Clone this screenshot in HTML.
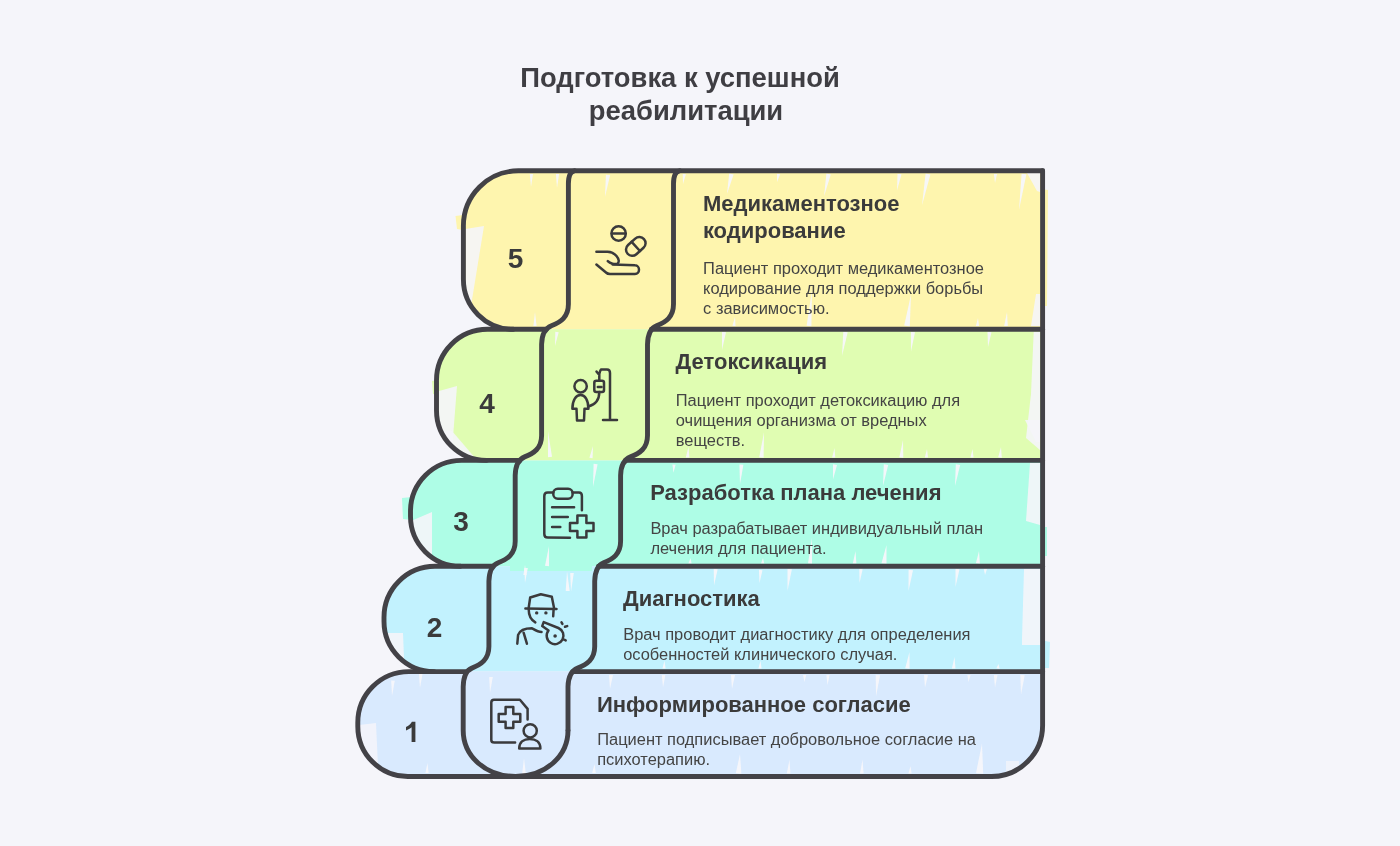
<!DOCTYPE html>
<html><head><meta charset="utf-8"><style>
html,body{margin:0;padding:0;background:#f5f5fa;width:1400px;height:846px;overflow:hidden}
svg{position:absolute;left:0;top:0;display:block;will-change:transform}
text{font-family:"Liberation Sans",sans-serif}
.t{font-size:27.4px;font-weight:bold;fill:#3f3e43}
.h{font-size:22px;font-weight:bold;fill:#3b3b3b}
.b{font-size:16.45px;fill:#444444}
.n{font-size:28px;font-weight:bold;fill:#3b3b3b}
</style></head><body>
<svg width="1400" height="846" viewBox="0 0 1400 846">
<rect width="1400" height="846" fill="#f5f5fa"/>
<g id="fills">
<path d="M518.4,170.8 L1042.6,170.8 L1042.6,329.3 L513.4,329.3 A50,50 0 0 1 463.4,279.3 L463.4,225.8 A55,55 0 0 1 518.4,170.8 Z" fill="#fef5ae"/>
<path d="M487.5,329.3 L1042.6,329.3 L1042.6,460.4 L486.5,460.4 A50,50 0 0 1 436.5,410.4 L436.5,380.3 A51,51 0 0 1 487.5,329.3 Z" fill="#e0fdb2"/>
<path d="M461.5,460.4 L1042.6,460.4 L1042.6,566.3 L460.5,566.3 A50,50 0 0 1 410.5,516.3 L410.5,511.4 A51,51 0 0 1 461.5,460.4 Z" fill="#aefde6"/>
<path d="M435.0,566.3 L1042.6,566.3 L1042.6,671.6 L434.0,671.6 A50,50 0 0 1 384.0,621.6 L384.0,617.3 A51,51 0 0 1 435.0,566.3 Z" fill="#c2f2fe"/>
<path d="M408.8,671.6 L1042.6,671.6 L1042.6,725.5 A51,51 0 0 1 991.6,776.5 L407.8,776.5 A50,50 0 0 1 357.8,726.5 L357.8,722.6 A51,51 0 0 1 408.8,671.6 Z" fill="#d9eafe"/>
</g>
<g id="extra">
<polygon points="455.5,216 463,215 463,230 457,229" fill="#fef5ae"/>
<polygon points="465.5,229 484,226 471,306 465.5,306" fill="#f5f5fa" opacity="0.9"/>
<polygon points="1027,173 1040,173 1040,192 1037,191" fill="#f5f5fa" opacity="0.9"/>
<polygon points="1041,189 1048,190 1047,306 1041,306" fill="#fef5ae"/>
<polygon points="1036,294 1040,294 1040,326 1031,326" fill="#f5f5fa" opacity="0.9"/>
<polygon points="432,381 439,380 439,395 433,394" fill="#e0fdb2"/>
<polygon points="439,391 457,386 452,450 439,447" fill="#f5f5fa" opacity="0.9"/>
<polygon points="439,430 452,431 476,459 462,459" fill="#f5f5fa" opacity="0.9"/>
<polygon points="1033.7,332 1040,332 1040,450 1026,438 1031,394" fill="#f5f5fa" opacity="0.9"/>
<polygon points="402,498 412,497 412,520 403,519" fill="#aefde6"/>
<polygon points="411,521 432,512 432,562 411,545" fill="#f5f5fa" opacity="0.9"/>
<polygon points="1030,463 1040,463 1040,525 1026,521" fill="#f5f5fa" opacity="0.9"/>
<polygon points="1040,527 1047,527 1047,556 1040,556" fill="#aefde6"/>
<polygon points="510,566 592,566 592,571 510,571" fill="#aefde6"/>
<polygon points="385,633 403,633 404.4,668 395,662" fill="#f5f5fa" opacity="0.9"/>
<polygon points="1024,569 1040,569 1040,645 1022,645 1022,639" fill="#f5f5fa" opacity="0.9"/>
<polygon points="1041,640 1050,642 1049,668 1041,668" fill="#c2f2fe"/>
<polygon points="359,725 376,723 378,766 364,762" fill="#f5f5fa" opacity="0.85"/>
<polygon points="1006,761 1019,761 1019,773 1006,773" fill="#f5f5fa" opacity="0.7"/>
<polygon points="1025,420 1040,420 1040,442 1036,442" fill="#f5f5fa" opacity="0.9"/>
<polygon points="529.8,174.0 533.0,174.0 531,187" fill="#f7f7fb" opacity="0.95"/>
<polygon points="555.9,173.9 559.1,174.1 557,188" fill="#f7f7fb" opacity="0.95"/>
<polygon points="605.9,174.7 610.1,175.3 605,197" fill="#f7f7fb" opacity="0.95"/>
<polygon points="682.7,173.8 685.9,174.2 683,184" fill="#f7f7fb" opacity="0.95"/>
<polygon points="729.2,173.5 733.6,174.5 727,194" fill="#f7f7fb" opacity="0.95"/>
<polygon points="777.0,173.7 780.2,174.3 777,182" fill="#f7f7fb" opacity="0.95"/>
<polygon points="826.4,173.6 830.8,174.4 824,196.6" fill="#f7f7fb" opacity="0.95"/>
<polygon points="897.5,173.7 901.5,174.3 897,190.5" fill="#f7f7fb" opacity="0.95"/>
<polygon points="925.6,173.6 930.4,174.4 922,205.5" fill="#f7f7fb" opacity="0.95"/>
<polygon points="993.9,173.9 997.1,174.1 995,183" fill="#f7f7fb" opacity="0.95"/>
<polygon points="1021.6,173.7 1026.4,174.3 1019,210" fill="#f7f7fb" opacity="0.95"/>
<polygon points="536.6,326.0 533.4,326.0 535,312" fill="#f7f7fb" opacity="0.95"/>
<polygon points="735.6,326.2 732.4,325.8 735,317" fill="#f7f7fb" opacity="0.95"/>
<polygon points="811.4,326.2 806.6,325.8 812,290" fill="#f7f7fb" opacity="0.95"/>
<polygon points="909.8,326.4 904.2,325.6 911,294.5" fill="#f7f7fb" opacity="0.95"/>
<polygon points="979.1,326.1 975.9,325.9 978,318" fill="#f7f7fb" opacity="0.95"/>
<polygon points="1007.8,326.1 1004.2,325.9 1007,312" fill="#f7f7fb" opacity="0.95"/>
<polygon points="555.3,331.8 558.7,332.2 555,346" fill="#f7f7fb" opacity="0.95"/>
<polygon points="722.0,331.8 726.0,332.2 722,350" fill="#f7f7fb" opacity="0.95"/>
<polygon points="843.3,331.7 847.7,332.3 842,356" fill="#f7f7fb" opacity="0.95"/>
<polygon points="911.0,331.8 915.0,332.2 911,351.5" fill="#f7f7fb" opacity="0.95"/>
<polygon points="987.5,331.8 991.5,332.2 988,347" fill="#f7f7fb" opacity="0.95"/>
<polygon points="552.0,456.8 548.0,457.2 548,431" fill="#f7f7fb" opacity="0.95"/>
<polygon points="592.6,458.3 589.4,457.7 593,446" fill="#f7f7fb" opacity="0.95"/>
<polygon points="689.4,457.6 685.8,457.4 688.5,446.7" fill="#f7f7fb" opacity="0.95"/>
<polygon points="763.6,457.7 759.2,457.3 764,432.6" fill="#f7f7fb" opacity="0.95"/>
<polygon points="835.3,457.6 832.1,457.4 834.5,448" fill="#f7f7fb" opacity="0.95"/>
<polygon points="903.3,457.7 899.3,457.3 903,440" fill="#f7f7fb" opacity="0.95"/>
<polygon points="928.0,457.6 924.8,457.4 927,449" fill="#f7f7fb" opacity="0.95"/>
<polygon points="973.6,457.6 970.4,457.4 972.5,449" fill="#f7f7fb" opacity="0.95"/>
<polygon points="1001.8,457.7 998.2,457.3 1001,447" fill="#f7f7fb" opacity="0.95"/>
<polygon points="593.6,463.8 597.6,464.2 593,487" fill="#f7f7fb" opacity="0.95"/>
<polygon points="672.4,464.5 675.6,464.7 673.5,472.8" fill="#f7f7fb" opacity="0.95"/>
<polygon points="739.4,464.5 743.4,464.7 740,484.3" fill="#f7f7fb" opacity="0.95"/>
<polygon points="833.0,464.3 837.0,464.9 833,479.4" fill="#f7f7fb" opacity="0.95"/>
<polygon points="883.8,464.3 888.2,464.9 883,486" fill="#f7f7fb" opacity="0.95"/>
<polygon points="955.8,464.3 960.2,464.9 955,486" fill="#f7f7fb" opacity="0.95"/>
<polygon points="526.6,575.0 523.4,575.0 525,565" fill="#f7f7fb" opacity="0.95"/>
<polygon points="549.0,566.2 545.0,565.8 549,546" fill="#f7f7fb" opacity="0.95"/>
<polygon points="569.7,590.9 565.7,591.1 567,571" fill="#f7f7fb" opacity="0.95"/>
<polygon points="691.6,563.6 688.4,563.4 690.5,558" fill="#f7f7fb" opacity="0.95"/>
<polygon points="764.2,563.6 761.0,563.4 763,558" fill="#f7f7fb" opacity="0.95"/>
<polygon points="812.0,563.7 808.0,563.3 812,538" fill="#f7f7fb" opacity="0.95"/>
<polygon points="856.4,563.6 852.8,563.4 855.5,551" fill="#f7f7fb" opacity="0.95"/>
<polygon points="886.5,563.8 881.5,563.2 886.5,545" fill="#f7f7fb" opacity="0.95"/>
<polygon points="979.9,563.7 975.9,563.3 979,551" fill="#f7f7fb" opacity="0.95"/>
<polygon points="524.2,567.9 527.8,568.1 525,583" fill="#f7f7fb" opacity="0.95"/>
<polygon points="570.2,572.9 573.8,573.1 571,592" fill="#f7f7fb" opacity="0.95"/>
<polygon points="713.7,568.8 717.7,569.2 714,585.6" fill="#f7f7fb" opacity="0.95"/>
<polygon points="758.9,569.8 762.5,570.2 759.5,583" fill="#f7f7fb" opacity="0.95"/>
<polygon points="787.5,568.8 791.9,569.2 787.5,591" fill="#f7f7fb" opacity="0.95"/>
<polygon points="859.3,568.8 862.7,569.2 859.5,583" fill="#f7f7fb" opacity="0.95"/>
<polygon points="908.6,569.8 913.0,570.2 908.5,591" fill="#f7f7fb" opacity="0.95"/>
<polygon points="955.5,568.8 959.5,569.2 955.5,587" fill="#f7f7fb" opacity="0.95"/>
<polygon points="983.8,568.9 987.0,569.1 985,575" fill="#f7f7fb" opacity="0.95"/>
<polygon points="665.6,668.6 662.4,668.4 664.5,660.7" fill="#f7f7fb" opacity="0.95"/>
<polygon points="761.6,668.6 758.4,668.4 760.5,660.7" fill="#f7f7fb" opacity="0.95"/>
<polygon points="909.6,668.8 905.2,668.2 909.5,652" fill="#f7f7fb" opacity="0.95"/>
<polygon points="955.5,668.6 951.9,668.4 954.5,657" fill="#f7f7fb" opacity="0.95"/>
<polygon points="999.6,668.7 996.4,668.3 998.5,664" fill="#f7f7fb" opacity="0.95"/>
<polygon points="391.2,680.5 394.8,680.7 392,696" fill="#f7f7fb" opacity="0.95"/>
<polygon points="418.9,673.9 422.5,674.1 420,688" fill="#f7f7fb" opacity="0.95"/>
<polygon points="489.2,676.9 492.8,677.1 490,693" fill="#f7f7fb" opacity="0.95"/>
<polygon points="609.0,674.9 613.0,675.1 610,689" fill="#f7f7fb" opacity="0.95"/>
<polygon points="661.8,674.9 665.4,675.1 663,687.6" fill="#f7f7fb" opacity="0.95"/>
<polygon points="731.0,674.9 735.0,675.1 732,689" fill="#f7f7fb" opacity="0.95"/>
<polygon points="803.0,675.0 806.2,675.0 804.5,682" fill="#f7f7fb" opacity="0.95"/>
<polygon points="826.4,674.9 829.6,675.1 827.5,685" fill="#f7f7fb" opacity="0.95"/>
<polygon points="875.7,674.8 880.1,675.2 876,696.6" fill="#f7f7fb" opacity="0.95"/>
<polygon points="924.0,674.8 928.0,675.2 925,687.6" fill="#f7f7fb" opacity="0.95"/>
<polygon points="967.4,674.9 970.6,675.1 968.5,682" fill="#f7f7fb" opacity="0.95"/>
<polygon points="993.9,674.9 997.5,675.1 995,687.6" fill="#f7f7fb" opacity="0.95"/>
<polygon points="1020.3,674.8 1024.7,675.2 1021,694.8" fill="#f7f7fb" opacity="0.95"/>
<polygon points="526.0,775.0 522.0,775.0 524,758" fill="#f7f7fb" opacity="0.95"/>
<polygon points="428.6,773.1 425.4,772.9 427.5,763" fill="#f7f7fb" opacity="0.95"/>
<polygon points="595.8,773.1 592.2,772.9 594.5,764" fill="#f7f7fb" opacity="0.95"/>
<polygon points="741.4,773.7 735.8,773.3 740,754" fill="#f7f7fb" opacity="0.95"/>
<polygon points="790.4,773.6 786.8,773.4 789.5,759.6" fill="#f7f7fb" opacity="0.95"/>
<polygon points="863.6,773.6 860.0,773.4 862.5,759.6" fill="#f7f7fb" opacity="0.95"/>
<polygon points="911.6,773.6 908.4,773.4 910.5,766" fill="#f7f7fb" opacity="0.95"/>
<polygon points="983.2,773.8 976.0,773.2 982,743.6" fill="#f7f7fb" opacity="0.95"/>
</g>
<g id="outl" fill="none" stroke="#434247" stroke-width="4.9" stroke-linecap="round" stroke-linejoin="round">
<path d="M1042.6,170.8 L518.4,170.8 A55,55 0 0 0 463.4,225.8 L463.4,279.3 A50,50 0 0 0 513.4,329.3 "/>
<path d="M546.4,329.3 L487.5,329.3 A51,51 0 0 0 436.5,380.3 L436.5,410.4 A50,50 0 0 0 486.5,460.4 "/>
<path d="M651.5,329.3 L1042.6,329.3"/>
<path d="M519.6,460.4 L461.5,460.4 A51,51 0 0 0 410.5,511.4 L410.5,516.3 A50,50 0 0 0 460.5,566.3 "/>
<path d="M625.5,460.4 L1042.6,460.4"/>
<path d="M493.2,566.3 L435.0,566.3 A51,51 0 0 0 384.0,617.3 L384.0,621.6 A50,50 0 0 0 434.0,671.6 "/>
<path d="M598.6,566.3 L1042.6,566.3"/>
<path d="M466.9,671.6 L408.8,671.6 A51,51 0 0 0 357.8,722.6 L357.8,726.5 A50,50 0 0 0 407.8,776.5 L991.6,776.5 A51,51 0 0 0 1042.6,725.5 L1042.6,170.8"/>
<path d="M572.7,671.6 L1042.6,671.6"/>
<path d="M574.4,170.8 Q568.4,171.8 568.4,183.8 L568.4,304.3 C568.4,317.3 560.4,322.3 551.4,325.8 C546.4,327.8 541.9,332.3 541.6,344.3 L541.6,435.4 C541.6,448.4 533.6,453.4 524.6,456.9 C519.6,458.9 515.5,463.4 515.2,475.4 L515.2,541.3 C515.2,554.3 507.2,559.3 498.2,562.8 C493.2,564.8 489.2,569.3 488.9,581.3 L488.9,646.6 C488.9,659.6 480.9,664.6 471.9,668.1 C466.9,670.1 463.5,674.6 463.2,686.6 L463.2,730.5 C463.2,756.5 486.2,776.5 515.6,776.5 C545.0,776.5 568.0,756.5 568.0,730.5"/>
<path d="M679.5,170.8 Q673.5,171.8 673.5,183.8 L673.5,304.3 C673.5,317.3 665.5,322.3 656.5,325.8 C651.5,327.8 647.8,332.3 647.5,344.3 L647.5,435.4 C647.5,448.4 639.5,453.4 630.5,456.9 C625.5,458.9 620.9,463.4 620.6,475.4 L620.6,541.3 C620.6,554.3 612.6,559.3 603.6,562.8 C598.6,564.8 595.0,569.3 594.7,581.3 L594.7,646.6 C594.7,659.6 586.7,664.6 577.7,668.1 C572.7,670.1 568.3,674.6 568.0,686.6 L568.0,730.5"/>
</g>
<g fill="none" stroke="#3a3a3c" stroke-width="2.5" stroke-linecap="round" stroke-linejoin="round">
 <circle cx="618.6" cy="233.5" r="7.2"/>
 <path d="M612,233.5 L625.2,233.5"/>
 <g transform="translate(635.8,246.4) rotate(-42)"><rect x="-11" y="-6.2" width="22" height="12.4" rx="6.2"/><path d="M0,-6.2 L0,6.2"/></g>
 <path d="M596.4,251.7 L607.5,251.7 C611,251.7 614,253 616.5,256 C619,259 619.5,262 617.5,263.5 C615,265 610,263.5 607.8,261.1"/>
 <path d="M596.4,264.5 L606,272.5 C607,273.5 608,274 610,274 L635,274 C637.5,274 639,272 639,269.8 C639,267.5 637.5,265.3 635,265.3 L612.7,264.5"/>
 <circle cx="580.6" cy="386.2" r="6.2"/>
 <path d="M572.4,408.8 C572.4,400 576,395 580.6,395 C585,395 588.4,400 588.4,408.8 L584.5,408.8 L584,420.5 L577,420.5 L576.5,408.8 Z"/>
 <path d="M588.4,406.5 C594,405 599.3,401 599.3,392"/>
 <rect x="594.3" y="380.7" width="9.7" height="11.3" rx="2"/>
 <path d="M597.8,387 L601.5,387"/>
 <path d="M599.3,380.7 L599.3,374 M596.5,371.5 Q598.5,374.5 599.3,374 Q600,371 601,369.4 L607,369.4 Q610,369.4 610,373 L610,420 M603,420 L617,420"/>
 <path d="M553.3,492.4 L547.7,492.4 Q544.3,492.4 544.3,496 L544.3,534 Q544.3,537.6 547.7,537.6 L570,537.8"/>
 <path d="M572.6,492.4 L579,492.4 Q581.9,492.4 581.9,496 L581.9,510.3"/>
 <rect x="553.3" y="488.7" width="19.3" height="10" rx="4.5"/>
 <path d="M552.1,507.3 L574.1,507.3 M552.1,517 L567.8,517 M552.1,527 L560.3,527"/>
 <path d="M577.4,515.5 L586.4,515.5 L586.4,523 L593.5,523 L593.5,531.1 L586.4,531.1 L586.4,537.5 L577.4,537.5 L577.4,531.1 L570,531.1 L570,523 L577.4,523 Z"/>
 <path d="M528.7,607.8 L530.2,597.5 L540.8,594.2 L551.8,596.8 L554,607.8"/>
 <path d="M525.4,608.5 L556.5,608.9"/>
 <path d="M528.7,609.3 C528.7,616 531,620 535.3,622.4"/>
 <path d="M553.6,609.3 L553.2,616.2"/>
 <path d="M517.3,643.7 L518.1,634.9 C520,630 526,628.3 532,628.3 C535,630 538,632 541.5,632"/>
 <path d="M523.6,632.7 L526.9,643.7"/>
 <path d="M543.7,622.1 L558.4,628 A8.4,8.4 0 1 1 548.5,630.5 L542.2,626.1 Z"/>
 <path d="M561.5,622.3 L562.4,623.9 M565,626.8 L567.2,626.1 M564.2,639.7 L565.7,640.4"/>
 <path d="M527.6,719.5 L527.6,708.9 L519.9,699.7 L494,699.7 Q491.3,699.7 491.3,702.5 L491.3,740 Q491.3,742.6 494.3,742.6 L515.1,742.6"/>
 <path d="M505.6,707 L513.3,707 L513.3,714 L520.3,714 L520.3,721.7 L513.3,721.7 L513.3,727.9 L505.6,727.9 L505.6,721.7 L498.7,721.7 L498.7,714 L505.6,714 Z"/>
 <circle cx="530.2" cy="730.8" r="6.6"/>
 <path d="M519.2,748.4 C519.2,742 524,738.9 529.8,738.9 C535.6,738.9 540.4,742 540.4,748.4 Z"/>
</g>
<g fill="#3a3a3c">
 <circle cx="536.7" cy="612.9" r="1.7"/><circle cx="545.9" cy="612.9" r="1.7"/>
 <circle cx="555.1" cy="636" r="1.8"/>
</g>

<text x="702.9" y="211" class="h">Медикаментозное</text>
<text x="702.9" y="238" class="h">кодирование</text>
<text x="703.0999999999999" y="273.6" class="b">Пациент проходит медикаментозное</text>
<text x="703.0999999999999" y="293.5" class="b">кодирование для поддержки борьбы</text>
<text x="703.0999999999999" y="313.5" class="b">с зависимостью.</text>
<text x="675.6" y="369" class="h">Детоксикация</text>
<text x="675.8" y="406" class="b">Пациент проходит детоксикацию для</text>
<text x="675.8" y="426" class="b">очищения организма от вредных</text>
<text x="675.8" y="446" class="b">веществ.</text>
<text x="650.2" y="500.4" class="h">Разработка плана лечения</text>
<text x="650.4" y="534.2" class="b">Врач разрабатывает индивидуальный план</text>
<text x="650.4" y="553.5" class="b">лечения для пациента.</text>
<text x="623.0" y="605.7" class="h">Диагностика</text>
<text x="623.1999999999999" y="640" class="b">Врач проводит диагностику для определения</text>
<text x="623.1999999999999" y="659.6" class="b">особенностей клинического случая.</text>
<text x="597.0" y="712" class="h">Информированное согласие</text>
<text x="597.1999999999999" y="745" class="b">Пациент подписывает добровольное согласие на</text>
<text x="597.1999999999999" y="764.8" class="b">психотерапию.</text>
<text x="515.5" y="267.7" class="n" text-anchor="middle">5</text>
<text x="487" y="413.0" class="n" text-anchor="middle">4</text>
<text x="461" y="531.2" class="n" text-anchor="middle">3</text>
<text x="434.5" y="636.7" class="n" text-anchor="middle">2</text>
<path d="M411.9,721.8 L415.4,721.8 L415.4,741.9 L411.6,741.9 L411.6,727.2 C410,728.6 408.2,729.7 406,730.4 L406,726.9 C408.6,725.8 410.9,724 411.9,721.8 Z" fill="#3b3b3b"/>
<text x="680" y="86.9" class="t" text-anchor="middle">Подготовка к успешной</text>
<text x="686" y="119.5" class="t" text-anchor="middle">реабилитации</text>
</svg>
</body></html>
